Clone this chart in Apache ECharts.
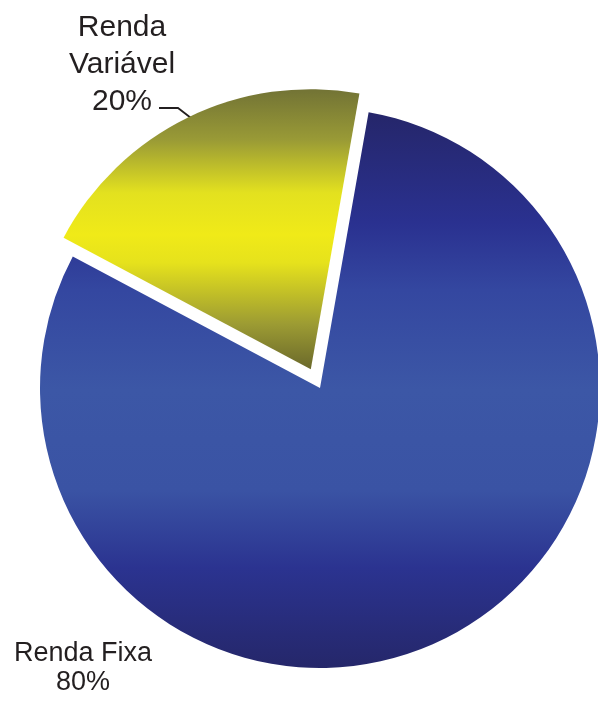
<!DOCTYPE html>
<html>
<head>
<meta charset="utf-8">
<script src="https://cdn.jsdelivr.net/npm/echarts@6/dist/echarts.min.js"></script>
<style>
  html, body { margin: 0; padding: 0; background: #fff; }
  #chart { width: 598px; height: 702px; }
</style>
</head>
<body>
<div id="chart"></div>
<script>
// dados do gráfico
const categorias = ['Renda Fixa', 'Renda Variável'];
const rotulos = ['Renda Fixa', 'Renda\nVariável'];
const valores = [80, 20];

const chart = echarts.init(document.getElementById('chart'));

// gradiente vertical das fatias
const azul = new echarts.graphic.LinearGradient(0, 0, 0, 1, [
  { offset: 0, color: '#25266a' },
  { offset: 0.2, color: '#2a3190' },
  { offset: 0.32, color: '#3447a0' },
  { offset: 0.5, color: '#3c57a6' },
  { offset: 0.68, color: '#3a53a4' },
  { offset: 0.82, color: '#2b3390' },
  { offset: 1, color: '#25276a' }
]);
const amarelo = new echarts.graphic.LinearGradient(0, 0, 0, 1, [
  { offset: 0, color: '#727335' },
  { offset: 0.18, color: '#999a36' },
  { offset: 0.37, color: '#e3e11f' },
  { offset: 0.52, color: '#f0ea18' },
  { offset: 0.62, color: '#e6e21c' },
  { offset: 0.84, color: '#9c9b33' },
  { offset: 1, color: '#6b692b' }
]);
const cores = [azul, amarelo];
const fontes = [{ fontSize: 27, lineHeight: 29 }, { fontSize: 30, lineHeight: 37 }];

// fatia destacada: deslocada 21px na direção da bissetriz
const centro = [320, 388];
const inicio = 80;
const desloc = 21;
// bissetriz da fatia amarela: fim do azul (80 - 288) até 80
const bissetriz = (inicio + (inicio - 360 * valores[0] / 100 + 360)) / 2 * Math.PI / 180;
const centroDestaque = [
  centro[0] + desloc * Math.cos(bissetriz),
  centro[1] - desloc * Math.sin(bissetriz)
];

// cada série mostra só uma fatia; a outra fica transparente
function serie(visivel, c) {
  return {
    type: 'pie',
    silent: true,
    center: c,
    radius: 280,
    startAngle: inicio,
    clockwise: true,
    avoidLabelOverlap: false,
    emphasis: { disabled: true },
    label: {
      show: true,
      position: 'outside',
      color: '#231f20',
      fontFamily: 'Liberation Sans, Arial, sans-serif'
    },
    labelLine: { show: true, lineStyle: { color: '#231f20', width: 1.8 } },
    labelLayout: function (p) {
      if (p.dataIndex === 1) {
        return {
          x: 122, y: 9, align: 'center', verticalAlign: 'top',
          labelLinePoints: [[159, 108], [178, 108], [191, 118]]
        };
      }
      return { x: 83, y: 639, align: 'center', verticalAlign: 'top' };
    },
    data: categorias.map((nome, i) => ({
      name: nome,
      value: valores[i],
      itemStyle: { color: i === visivel ? cores[i] : 'rgba(0,0,0,0)' },
      label: Object.assign({
        show: i === visivel,
        formatter: rotulos[i] + '\n' + valores[i] + '%'
      }, fontes[i]),
      labelLine: { show: i === visivel && i === 1 }
    }))
  };
}

chart.setOption({
  animation: false,
  series: [serie(0, centro), serie(1, centroDestaque)]
});

window.addEventListener('resize', () => chart.resize());
</script>
</body>
</html>
